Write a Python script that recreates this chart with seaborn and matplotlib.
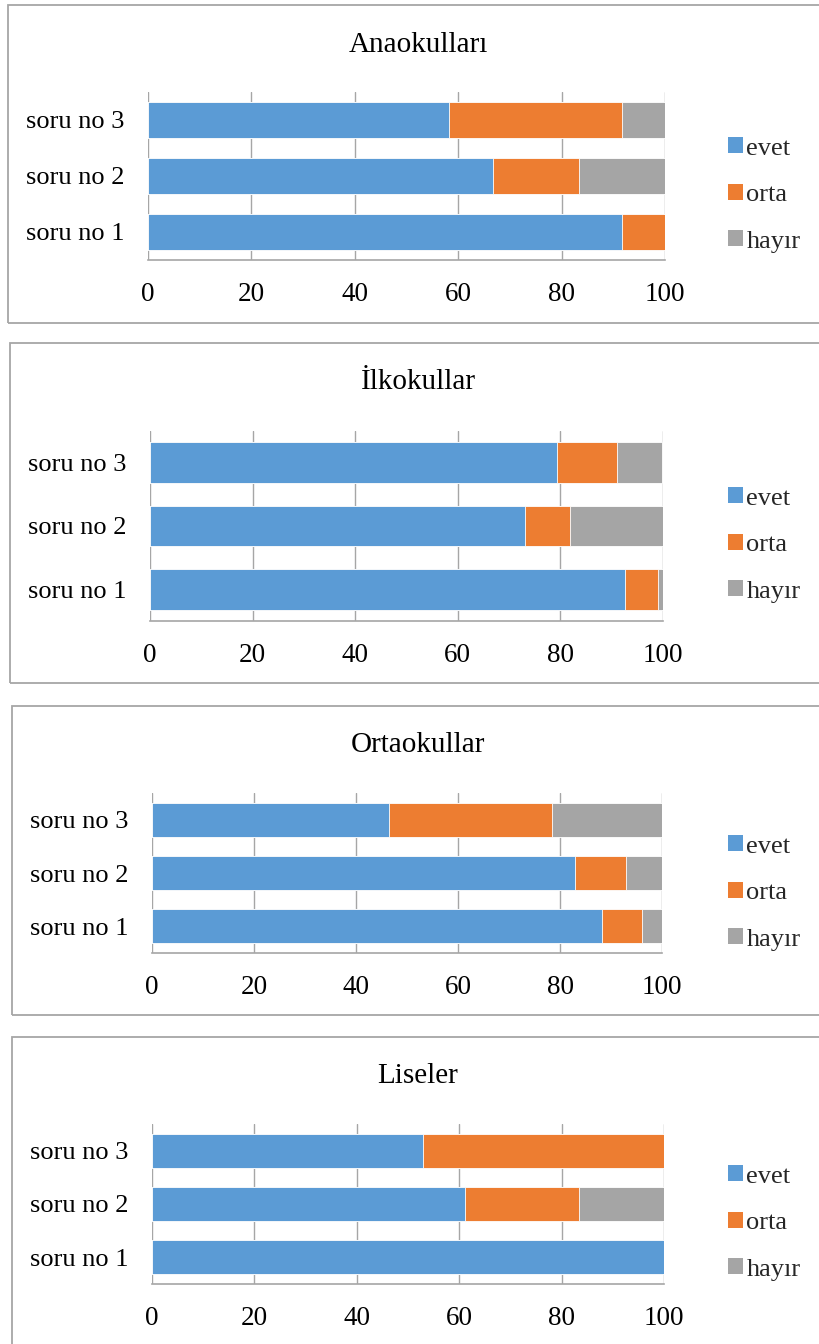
import numpy as np
import pandas as pd
import matplotlib
matplotlib.use("Agg")
import matplotlib.pyplot as plt
from matplotlib.patches import Rectangle, Patch
import seaborn as sns

# Survey answers (percent) per question, listed top to bottom: soru no 3, 2, 1
questions = ["soru no 3", "soru no 2", "soru no 1"]
answers = ["evet", "orta", "hayır"]
titles = ["Anaokulları", "İlkokullar", "Ortaokullar", "Liseler"]
ticks = [0, 20, 40, 60, 80, 100]

ana_evet = [58.3, 66.7, 91.7]
ana_orta = [33.3, 16.7, 8.3]
ana_hayir = [8.4, 16.6, 0.0]

ilk_evet = [79.3, 73.1, 92.6]
ilk_orta = [11.8, 8.7, 6.4]
ilk_hayir = [8.7, 18.2, 1.0]

ort_evet = [46.4, 83.0, 88.2]
ort_orta = [32.0, 9.9, 7.8]
ort_hayir = [21.6, 7.1, 4.0]

lis_evet = [52.9, 61.1, 100.0]
lis_orta = [47.1, 22.3, 0.0]
lis_hayir = [0.0, 16.6, 0.0]

series = [
    (ana_evet, ana_orta, ana_hayir),
    (ilk_evet, ilk_orta, ilk_hayir),
    (ort_evet, ort_orta, ort_hayir),
    (lis_evet, lis_orta, lis_hayir),
]

colors = {"evet": "#5B9BD5", "orta": "#ED7D31", "hayır": "#A5A5A5"}
line_gray = "#A6A6A6"

sns.set_theme(style="white")
plt.rcParams["font.family"] = ["Liberation Serif", "DejaVu Serif"]

W, H = 819, 1344
fig = plt.figure(figsize=(W / 100, H / 100), dpi=100)

# pixel layout of each panel: frame (left, top, bottom), axes (left, right, top, bottom)
layout = [
    dict(frame=(8, 5, 323), axes=(148, 665, 92, 260), title_y=45, legend_y=195),
    dict(frame=(10, 343, 683), axes=(150, 663, 431, 621), title_y=382, legend_y=545),
    dict(frame=(12, 706, 1015), axes=(152, 662, 793, 953), title_y=745, legend_y=893),
    dict(frame=(12, 1037, 1370), axes=(152, 664, 1124, 1284), title_y=1076, legend_y=1223),
]

for title, (evet, orta, hayir), lay in zip(titles, series, layout):
    fl, ft, fb = lay["frame"]
    fig.add_artist(Rectangle((fl / W, 1 - fb / H), (W + 40 - fl) / W, (fb - ft) / H,
                             transform=fig.transFigure, fill=False,
                             edgecolor=line_gray, linewidth=1.3))

    al, ar, at, ab = lay["axes"]
    ax = fig.add_axes([al / W, 1 - ab / H, (ar - al) / W, (ab - at) / H])

    df = pd.DataFrame({"soru": questions, "evet": evet, "orta": orta, "hayır": hayir})
    df["upto_orta"] = df["evet"] + df["orta"]
    df["upto_hayir"] = df["upto_orta"] + df["hayır"]

    # stacked bars: draw cumulative totals back to front
    for col, key in [("upto_hayir", "hayır"), ("upto_orta", "orta"), ("evet", "evet")]:
        sns.barplot(data=df, x=col, y="soru", order=questions, color=colors[key],
                    width=0.64, errorbar=None, saturation=1, ax=ax,
                    edgecolor="white", linewidth=0.6)

    ax.set_xlim(0, 100)
    ax.set_ylim(2.5, -0.5)
    ax.set_xticks(ticks)
    ax.set_xticklabels([str(t) for t in ticks])
    ax.set_xlabel("")
    ax.set_ylabel("")
    ax.grid(axis="x", color=line_gray, linewidth=1.0)
    ax.grid(axis="y", visible=False)
    ax.set_axisbelow(True)
    for s in ["top", "right", "left"]:
        ax.spines[s].set_visible(False)
    ax.spines["bottom"].set_color(line_gray)
    ax.spines["bottom"].set_linewidth(1.2)
    ax.tick_params(axis="x", length=0, pad=15.5, labelsize=19.5, colors="black")
    ax.tick_params(axis="y", length=0, pad=17, labelsize=19, colors="black")

    fig.text(418 / W, 1 - lay["title_y"] / H, title, ha="center", va="center",
             fontsize=21, color="black")

    handles = [Patch(facecolor=colors[a], edgecolor="none") for a in answers]
    ax.legend(handles, answers, loc="center left",
              bbox_to_anchor=(728 / W, 1 - lay["legend_y"] / H),
              bbox_transform=fig.transFigure, frameon=False, fontsize=19,
              handlelength=0.55, handleheight=0.55, handletextpad=0.15,
              labelspacing=0.92, borderpad=0, borderaxespad=0)

fig.savefig("out.png", dpi=100, facecolor="white")
